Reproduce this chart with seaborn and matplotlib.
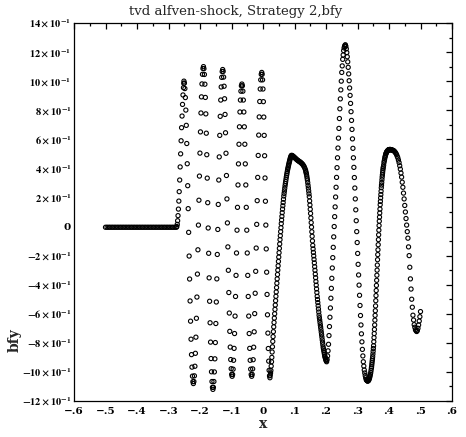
import matplotlib
matplotlib.use("Agg")
import matplotlib.pyplot as plt
import seaborn as sns
import pandas as pd
from matplotlib.ticker import FixedLocator, FixedFormatter

# ---------------- data ----------------
title = "tvd alfven-shock, Strategy 2,bfy"
x_label = "x"
y_label = "bfy"

x_ticks = [-0.6, -0.5, -0.4, -0.3, -0.2, -0.1, 0.0, 0.1, 0.2, 0.3, 0.4, 0.5, 0.6]
x_tick_labels = ["\u2212.6", "\u2212.5", "\u2212.4", "\u2212.3", "\u2212.2", "\u2212.1", "0",
                 ".1", ".2", ".3", ".4", ".5", ".6"]
y_ticks = [-1.2, -1.0, -0.8, -0.6, -0.4, -0.2, 0.0, 0.2, 0.4, 0.6, 0.8, 1.0, 1.2, 1.4]
y_tick_labels = [r"$-12\times10^{-1}$", r"$-10\times10^{-1}$", r"$-8\times10^{-1}$",
                 r"$-6\times10^{-1}$", r"$-4\times10^{-1}$", r"$-2\times10^{-1}$", "0",
                 r"$2\times10^{-1}$", r"$4\times10^{-1}$", r"$6\times10^{-1}$",
                 r"$8\times10^{-1}$", r"$10\times10^{-1}$", r"$12\times10^{-1}$",
                 r"$14\times10^{-1}$"]

# flat upstream state
x_flat = [-0.500, -0.495, -0.490, -0.485, -0.480, -0.475, -0.470, -0.465, -0.460, -0.455,
          -0.450, -0.445, -0.440, -0.435, -0.430, -0.425, -0.420, -0.415, -0.410, -0.405,
          -0.400, -0.395, -0.390, -0.385, -0.380, -0.375, -0.370, -0.365, -0.360, -0.355,
          -0.350, -0.345, -0.340, -0.335, -0.330, -0.325, -0.320, -0.315, -0.310, -0.305,
          -0.300, -0.295, -0.290, -0.285, -0.280, -0.275]
y_flat = [-0.005, -0.005, -0.005, -0.005, -0.005, -0.005, -0.005, -0.005, -0.005, -0.005,
          -0.005, -0.005, -0.005, -0.005, -0.005, -0.005, -0.005, -0.005, -0.005, -0.005,
          -0.005, -0.005, -0.005, -0.005, -0.005, -0.005, -0.005, -0.005, -0.005, -0.005,
          -0.005, -0.005, -0.005, -0.005, -0.005, -0.005, -0.005, -0.005, -0.005, -0.005,
          -0.005, -0.005, -0.005, -0.005, -0.005, -0.005]

# oscillating region (-0.27 .. 0.02)
x_wave = [
    -0.2735, -0.2722, -0.2710, -0.2698, -0.2685, -0.2672, -0.2660, -0.2645, -0.2630, -0.2615,
    -0.2600, -0.2585, -0.2570, -0.2555, -0.2540, -0.2525, -0.2515, -0.2510,
    -0.2495, -0.2480, -0.2465, -0.2450, -0.2435, -0.2420, -0.2405, -0.2390, -0.2375, -0.2360,
    -0.2345, -0.2330, -0.2315, -0.2300, -0.2285, -0.2270, -0.2255, -0.2240, -0.2225, -0.2210,
    -0.2194, -0.2178, -0.2162, -0.2146, -0.2130, -0.2114, -0.2098, -0.2082, -0.2066, -0.2050,
    -0.2034, -0.2018, -0.2002, -0.1986, -0.1970, -0.1954, -0.1938, -0.1922, -0.1906, -0.1890,
    -0.1875, -0.1860, -0.1845, -0.1830, -0.1815, -0.1800, -0.1785, -0.1770, -0.1755, -0.1740,
    -0.1725, -0.1710, -0.1695, -0.1680, -0.1665, -0.1650, -0.1635, -0.1620, -0.1605, -0.1590,
    -0.1575, -0.1559, -0.1544, -0.1528, -0.1513, -0.1497, -0.1482, -0.1466, -0.1451, -0.1435,
    -0.1420, -0.1404, -0.1389, -0.1373, -0.1358, -0.1342, -0.1327, -0.1311, -0.1296, -0.1280,
    -0.1265, -0.1250, -0.1235, -0.1220, -0.1205, -0.1190, -0.1175, -0.1160, -0.1145, -0.1130,
    -0.1115, -0.1100, -0.1085, -0.1070, -0.1055, -0.1040, -0.1025, -0.1010, -0.0995, -0.0980,
    -0.0965, -0.0949, -0.0934, -0.0918, -0.0903, -0.0887, -0.0872, -0.0856, -0.0841, -0.0825,
    -0.0810, -0.0794, -0.0779, -0.0763, -0.0748, -0.0732, -0.0717, -0.0701, -0.0686, -0.0670,
    -0.0655, -0.0639, -0.0624, -0.0608, -0.0593, -0.0577, -0.0562, -0.0546, -0.0531, -0.0515,
    -0.0500, -0.0484, -0.0469, -0.0453, -0.0438, -0.0422, -0.0407, -0.0391, -0.0376, -0.0360,
    -0.0344, -0.0328, -0.0312, -0.0296, -0.0280, -0.0264, -0.0248, -0.0232, -0.0216, -0.0200,
    -0.0184, -0.0168, -0.0152, -0.0136, -0.0120, -0.0104, -0.0088, -0.0072, -0.0056, -0.0040,
    -0.0027, -0.0014, -0.0001, 0.0012, 0.0025, 0.0038, 0.0051, 0.0064, 0.0077, 0.0090,
    0.0103, 0.0116, 0.0129, 0.0142, 0.0155, 0.0168, 0.0181, 0.0194, 0.0207, 0.0220]
y_wave = [
    0.000, 0.015, 0.040, 0.075, 0.120, 0.175, 0.240, 0.320, 0.410, 0.500,
    0.590, 0.680, 0.760, 0.840, 0.905, 0.955, 0.985, 1.000,
    0.987, 0.949, 0.887, 0.801, 0.696, 0.571, 0.432, 0.281, 0.123, -0.040,
    -0.203, -0.361, -0.512, -0.651, -0.775, -0.881, -0.967, -1.029, -1.067, -1.080,
    -1.066, -1.027, -0.961, -0.872, -0.761, -0.631, -0.485, -0.327, -0.160, 0.010,
    0.181, 0.347, 0.505, 0.651, 0.781, 0.892, 0.981, 1.047, 1.087, 1.100,
    1.086, 1.046, 0.979, 0.888, 0.775, 0.642, 0.494, 0.333, 0.164, -0.010,
    -0.184, -0.353, -0.514, -0.662, -0.795, -0.908, -0.999, -1.066, -1.106, -1.120,
    -1.106, -1.066, -1.000, -0.910, -0.798, -0.667, -0.519, -0.360, -0.192, -0.020,
    0.152, 0.320, 0.479, 0.627, 0.758, 0.870, 0.960, 1.026, 1.066, 1.080,
    1.067, 1.028, 0.965, 0.879, 0.771, 0.645, 0.504, 0.351, 0.190, 0.025,
    -0.140, -0.301, -0.454, -0.595, -0.721, -0.829, -0.915, -0.978, -1.017, -1.030,
    -1.018, -0.981, -0.920, -0.838, -0.736, -0.616, -0.481, -0.336, -0.182, -0.025,
    0.132, 0.286, 0.431, 0.566, 0.686, 0.788, 0.870, 0.931, 0.968, 0.980,
    0.968, 0.931, 0.870, 0.788, 0.686, 0.566, 0.431, 0.286, 0.132, -0.025,
    -0.182, -0.336, -0.481, -0.616, -0.736, -0.838, -0.920, -0.981, -1.018, -1.030,
    -1.017, -0.979, -0.916, -0.830, -0.724, -0.599, -0.459, -0.308, -0.148, 0.015,
    0.178, 0.338, 0.489, 0.629, 0.754, 0.860, 0.946, 1.009, 1.047, 1.060,
    1.047, 1.009, 0.946, 0.859, 0.753, 0.627, 0.487, 0.334, 0.174, 0.010,
    -0.154, -0.314, -0.467, -0.607, -0.733, -0.839, -0.926, -0.989, -1.027, -1.040]

# rise to the first smooth hump
x_rise1 = [0.023, 0.024, 0.025, 0.026, 0.027, 0.028, 0.029, 0.030, 0.031, 0.032,
           0.033, 0.034, 0.035, 0.036, 0.037, 0.038, 0.039, 0.040, 0.041, 0.042,
           0.043, 0.044, 0.045, 0.046, 0.047, 0.048, 0.049, 0.050, 0.051, 0.052,
           0.053, 0.054, 0.055, 0.056, 0.057, 0.058, 0.059, 0.060, 0.061, 0.062,
           0.063, 0.064, 0.065, 0.066, 0.067, 0.068, 0.069, 0.070, 0.071, 0.072,
           0.073, 0.074, 0.075, 0.076, 0.077, 0.078, 0.079, 0.080, 0.081, 0.082,
           0.083, 0.084, 0.085, 0.086, 0.087, 0.088, 0.089, 0.090, 0.091]
y_rise1 = [-1.023, -1.007, -0.990, -0.960, -0.930, -0.900, -0.863, -0.827, -0.790, -0.757,
           -0.723, -0.690, -0.660, -0.630, -0.600, -0.570, -0.540, -0.510, -0.480, -0.450,
           -0.420, -0.390, -0.360, -0.330, -0.300, -0.270, -0.240, -0.210, -0.180, -0.150,
           -0.120, -0.090, -0.063, -0.035, -0.008, 0.020, 0.045, 0.070, 0.095, 0.120,
           0.143, 0.165, 0.188, 0.210, 0.228, 0.245, 0.263, 0.280, 0.295, 0.310,
           0.325, 0.340, 0.353, 0.365, 0.378, 0.390, 0.400, 0.410, 0.420, 0.430,
           0.439, 0.448, 0.456, 0.465, 0.472, 0.478, 0.485, 0.488, 0.490]

# shoulder of the hump
x_hump = [0.093, 0.095, 0.097, 0.099, 0.101, 0.103, 0.105, 0.107, 0.109, 0.111, 0.113,
          0.115, 0.117, 0.119, 0.121, 0.123, 0.125, 0.127, 0.129, 0.131, 0.133, 0.135]
y_hump = [0.488, 0.485, 0.481, 0.477, 0.473, 0.469, 0.465, 0.461, 0.457, 0.454, 0.451,
          0.448, 0.445, 0.442, 0.438, 0.434, 0.430, 0.424, 0.418, 0.410, 0.400, 0.389]

# fall into the trough at 0.2
x_fall1 = [0.136, 0.137, 0.138, 0.139, 0.140, 0.141, 0.142, 0.143, 0.144, 0.145,
           0.146, 0.147, 0.148, 0.149, 0.150, 0.151, 0.152, 0.153, 0.154, 0.155,
           0.156, 0.157, 0.158, 0.159, 0.160, 0.161, 0.162, 0.163, 0.164, 0.165,
           0.166, 0.167, 0.168, 0.169, 0.170, 0.171, 0.172, 0.173, 0.174, 0.175,
           0.176, 0.177, 0.178, 0.179, 0.180, 0.181, 0.182, 0.183, 0.184, 0.185,
           0.186, 0.187, 0.188, 0.189, 0.190, 0.191, 0.192, 0.193, 0.194, 0.195,
           0.196, 0.197, 0.198, 0.199, 0.200, 0.201, 0.202]
y_fall1 = [0.378, 0.369, 0.360, 0.347, 0.333, 0.320, 0.302, 0.283, 0.265, 0.245,
           0.225, 0.205, 0.176, 0.148, 0.119, 0.090, 0.059, 0.027, -0.004, -0.036,
           -0.067, -0.099, -0.130, -0.154, -0.178, -0.202, -0.226, -0.250, -0.276, -0.301,
           -0.327, -0.352, -0.378, -0.403, -0.429, -0.454, -0.480, -0.502, -0.523, -0.545,
           -0.567, -0.588, -0.610, -0.627, -0.643, -0.660, -0.677, -0.693, -0.710, -0.727,
           -0.744, -0.761, -0.779, -0.796, -0.813, -0.830, -0.842, -0.854, -0.866, -0.878,
           -0.890, -0.898, -0.905, -0.913, -0.920, -0.925, -0.930]

# tall peak near 0.26
x_rise2 = [0.2035, 0.2050, 0.2065, 0.2080, 0.2095, 0.2110, 0.2125, 0.2140, 0.2155, 0.2170,
           0.2185, 0.2200, 0.2215, 0.2230, 0.2245, 0.2260, 0.2275, 0.2290, 0.2305, 0.2320,
           0.2335, 0.2350, 0.2365, 0.2380, 0.2395, 0.2410, 0.2425, 0.2440, 0.2455, 0.2470,
           0.2485, 0.2500, 0.2515, 0.2530, 0.2545, 0.2560, 0.2575, 0.2590, 0.2605, 0.2615]
y_rise2 = [-0.915, -0.890, -0.855, -0.810, -0.750, -0.688, -0.624, -0.560, -0.493, -0.425,
           -0.356, -0.285, -0.214, -0.143, -0.071, 0.000, 0.068, 0.135, 0.203, 0.270,
           0.338, 0.405, 0.473, 0.540, 0.608, 0.675, 0.743, 0.810, 0.878, 0.940,
           1.000, 1.060, 1.105, 1.150, 1.180, 1.210, 1.229, 1.240, 1.247, 1.250]

x_fall2 = [0.2630, 0.2645, 0.2660, 0.2675, 0.2690, 0.2705, 0.2720, 0.2735, 0.2750, 0.2765,
           0.2780, 0.2795, 0.2810, 0.2825, 0.2840, 0.2855, 0.2870, 0.2885, 0.2900, 0.2915,
           0.2930, 0.2945, 0.2960, 0.2975, 0.2990, 0.3005, 0.3020, 0.3035, 0.3050, 0.3065,
           0.3080, 0.3095, 0.3110, 0.3125, 0.3140, 0.3155, 0.3170, 0.3185, 0.3200, 0.3215,
           0.3230, 0.3245, 0.3260, 0.3275, 0.3290, 0.3305]
y_fall2 = [1.240, 1.222, 1.197, 1.168, 1.133, 1.095, 1.050, 1.003, 0.953, 0.902,
           0.847, 0.790, 0.730, 0.668, 0.603, 0.538, 0.473, 0.407, 0.337, 0.265,
           0.190, 0.115, 0.040, -0.035, -0.110, -0.185, -0.260, -0.333, -0.403, -0.473,
           -0.543, -0.612, -0.677, -0.738, -0.793, -0.845, -0.890, -0.930, -0.960, -0.987,
           -1.007, -1.025, -1.040, -1.052, -1.057, -1.060]

# rise to the hump near 0.41
x_rise3 = [0.331, 0.332, 0.333, 0.334, 0.335, 0.336, 0.337, 0.338, 0.339, 0.340,
           0.341, 0.342, 0.343, 0.344,
           0.3447, 0.3454, 0.3461, 0.3468, 0.3475, 0.3482, 0.3489, 0.3496, 0.3503, 0.3510,
           0.3517, 0.3524, 0.3531, 0.3538, 0.3545, 0.3552, 0.3559, 0.3566, 0.3573, 0.3580,
           0.3587, 0.3594, 0.3601, 0.3608, 0.3615, 0.3622, 0.3629, 0.3636, 0.3643, 0.3650,
           0.3657, 0.3664, 0.3671, 0.3678, 0.3685, 0.3692, 0.3699, 0.3706, 0.3713, 0.3720,
           0.3727, 0.3734, 0.3741, 0.3748, 0.3755, 0.3762, 0.3769, 0.3776, 0.3783, 0.3790,
           0.3797, 0.3804, 0.3811, 0.3818,
           0.383, 0.384, 0.385, 0.386, 0.387, 0.388, 0.389, 0.390, 0.391, 0.392,
           0.393, 0.394, 0.395, 0.396, 0.397, 0.398, 0.399, 0.400, 0.401, 0.402,
           0.403, 0.404, 0.405, 0.406, 0.407, 0.408]
y_rise3 = [-1.061, -1.062, -1.063, -1.060, -1.058, -1.055, -1.048, -1.042, -1.035, -1.025,
           -1.015, -1.005, -0.990, -0.975,
           -0.965, -0.951, -0.937, -0.923, -0.910, -0.895, -0.877, -0.858, -0.839, -0.820,
           -0.792, -0.764, -0.736, -0.708, -0.677, -0.644, -0.611, -0.579, -0.546, -0.510,
           -0.475, -0.440, -0.405, -0.370, -0.335, -0.300, -0.265, -0.228, -0.193, -0.160,
           -0.125, -0.090, -0.057, -0.025, 0.007, 0.037, 0.065, 0.093, 0.120, 0.150,
           0.173, 0.197, 0.220, 0.243, 0.267, 0.285, 0.303, 0.322, 0.340, 0.355,
           0.370, 0.385, 0.398, 0.408,
           0.422, 0.440, 0.452, 0.463, 0.475, 0.483, 0.492, 0.500, 0.505, 0.509,
           0.514, 0.518, 0.520, 0.522, 0.525, 0.527, 0.528, 0.528, 0.529, 0.530,
           0.530, 0.530, 0.529, 0.528, 0.528, 0.527]

# last fall and small upturn at the right boundary
x_fall3 = [0.410, 0.412, 0.414, 0.416, 0.418, 0.420, 0.422, 0.424, 0.426, 0.428,
           0.430, 0.432, 0.434, 0.436, 0.438, 0.440, 0.442, 0.444, 0.446, 0.448,
           0.450, 0.452, 0.454, 0.456, 0.458, 0.460, 0.462, 0.464, 0.466, 0.468,
           0.470, 0.472, 0.474, 0.476, 0.478, 0.480, 0.482, 0.484, 0.486, 0.488,
           0.490, 0.492, 0.494, 0.496, 0.498, 0.500]
y_fall3 = [0.526, 0.525, 0.523, 0.520, 0.515, 0.510, 0.503, 0.495, 0.484, 0.473,
           0.457, 0.440, 0.418, 0.395, 0.368, 0.340, 0.305, 0.270, 0.230, 0.190,
           0.145, 0.100, 0.055, 0.010, -0.035, -0.080, -0.140, -0.200, -0.280, -0.360,
           -0.430, -0.500, -0.555, -0.610, -0.643, -0.675, -0.693, -0.710, -0.717, -0.722,
           -0.715, -0.700, -0.677, -0.650, -0.620, -0.585]

# ---------------- build table ----------------
xs = x_flat + x_wave + x_rise1 + x_hump + x_fall1 + x_rise2 + x_fall2 + x_rise3 + x_fall3
ys = y_flat + y_wave + y_rise1 + y_hump + y_fall1 + y_rise2 + y_fall2 + y_rise3 + y_fall3
df = pd.DataFrame({"x": xs, "y": ys})

# ---------------- style ----------------
sns.set_style("white")
plt.rcParams["font.family"] = ["DejaVu Serif"]
plt.rcParams["mathtext.fontset"] = "stix"
plt.rcParams["mathtext.default"] = "bf"
plt.rcParams["axes.unicode_minus"] = True

W, H = 466, 437
fig = plt.figure(figsize=(W / 100, H / 100), dpi=100)
fig.patch.set_facecolor("white")
ax = fig.add_axes([74 / W, (H - 401) / H, (452 - 74) / W, (401 - 23) / H])
ax.set_facecolor("white")

sns.scatterplot(data=df, x="x", y="y", ax=ax, marker="o", s=9,
                facecolor="none", edgecolor="black", linewidth=0.8, legend=False)

ax.set_xlim(-0.6, 0.6)
ax.set_ylim(-1.2, 1.4)

ax.xaxis.set_major_locator(FixedLocator(x_ticks))
ax.xaxis.set_major_formatter(FixedFormatter(x_tick_labels))
ax.yaxis.set_major_locator(FixedLocator(y_ticks))
ax.yaxis.set_major_formatter(FixedFormatter(y_tick_labels))
ax.xaxis.set_minor_locator(FixedLocator([-0.55, -0.45, -0.35, -0.25, -0.15, -0.05,
                                         0.05, 0.15, 0.25, 0.35, 0.45, 0.55]))
ax.yaxis.set_minor_locator(FixedLocator([-1.1, -0.9, -0.7, -0.5, -0.3, -0.1,
                                         0.1, 0.3, 0.5, 0.7, 0.9, 1.1, 1.3]))

ax.tick_params(which="both", direction="in", top=True, right=True, width=0.9,
               colors="black")
ax.tick_params(which="major", length=4.5)
ax.tick_params(which="minor", length=2.3)
ax.tick_params(axis="x", which="major", pad=4)
ax.tick_params(axis="y", which="major", pad=2)
for lab in ax.get_xticklabels():
    lab.set_fontsize(7.5)
    lab.set_fontweight("bold")
for lab in ax.get_yticklabels():
    lab.set_fontsize(7.5)
    lab.set_fontweight("bold")

for sp in ax.spines.values():
    sp.set_visible(True)
    sp.set_color("black")
    sp.set_linewidth(0.9)

ax.set_xlabel("")
ax.set_ylabel("")
fig.text(263 / W, 1 - 424 / H, x_label, ha="center", va="center",
         fontsize=10, fontweight="bold")
fig.text(15 / W, 1 - 340 / H, y_label, ha="center", va="center", rotation=90,
         fontsize=10, fontweight="bold")
fig.text(236 / W, 1 - 11 / H, title, ha="center", va="center", fontsize=9.5)

fig.savefig("out.png", dpi=100, facecolor="white")
